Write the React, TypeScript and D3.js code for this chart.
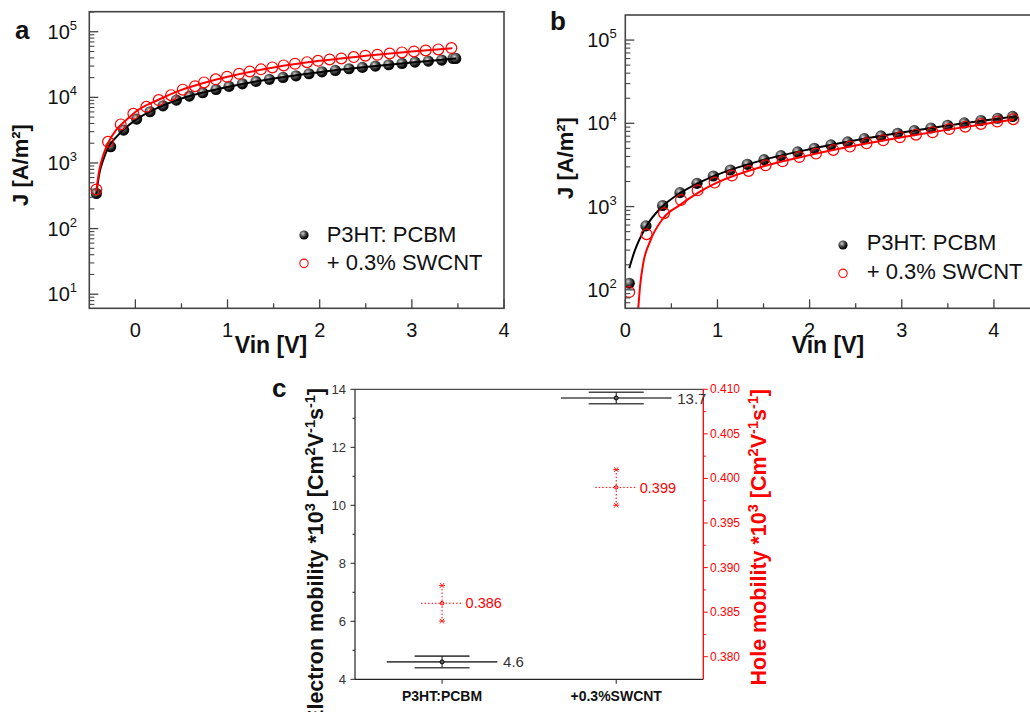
import React from 'react';
import * as d3 from 'd3';

const FONT = "'Liberation Sans', Arial, Helvetica, sans-serif";

// ---------- Panel a data ----------
const aBlackV = [-0.423, -0.268, -0.127, 0.014, 0.159, 0.3, 0.445, 0.586, 0.731, 0.875, 1.016, 1.161, 1.309, 1.454, 1.602, 1.743, 1.884, 2.025, 2.17, 2.318, 2.463, 2.604, 2.749, 2.893, 3.034, 3.179, 3.324, 3.447, 3.476];
const aBlackJ = [343, 1766, 3170, 4660, 6030, 7440, 9080, 10450, 11750, 13200, 14700, 16100, 17500, 18800, 20100, 21300, 22900, 24500, 25700, 27300, 28600, 29900, 31400, 32900, 34400, 35700, 37000, 39200, 39200];
const aRedV = [-0.423, -0.297, -0.159, -0.022, 0.119, 0.253, 0.387, 0.514, 0.647, 0.745, 0.872, 0.995, 1.125, 1.241, 1.363, 1.486, 1.609, 1.732, 1.863, 1.982, 2.108, 2.235, 2.369, 2.495, 2.626, 2.759, 2.893, 3.023, 3.15, 3.287, 3.429];
const aRedJ = [394, 2100, 3870, 5620, 7180, 9080, 10800, 13100, 14800, 16900, 18800, 20600, 22900, 24800, 26700, 28600, 30700, 32500, 34400, 36100, 37800, 39200, 41100, 43100, 44600, 46700, 48400, 50100, 51900, 53800, 56400];
const aBlackFitV = [-0.425, -0.39, -0.35, -0.297, -0.2, -0.1, 0, 0.25, 0.5, 0.75, 1.0, 1.5, 2.0, 2.5, 3.0, 3.48];
const aBlackFitJ = [330, 700, 1100, 1700, 2550, 3500, 4500, 7000, 9600, 12000, 14400, 19400, 24200, 29000, 34000, 39000];
const aRedFitV = [-0.425, -0.39, -0.35, -0.297, -0.2, -0.1, 0, 0.25, 0.5, 0.75, 1.0, 1.5, 2.0, 2.5, 3.0, 3.44];
const aRedFitJ = [370, 800, 1300, 2000, 3300, 4500, 6000, 9200, 13000, 16700, 20600, 28500, 36000, 43000, 50000, 56000];
const aXTicks = [0, 1, 2, 3, 4];
const aYExps = [1, 2, 3, 4, 5];

// ---------- Panel b data ----------
const bBlackV = [0.043, 0.224, 0.405, 0.593, 0.778, 0.955, 1.139, 1.324, 1.505, 1.689, 1.87, 2.051, 2.231, 2.412, 2.593, 2.774, 2.955, 3.136, 3.316, 3.497, 3.678, 3.859, 4.04, 4.203];
const bBlackJ = [120, 586, 1030, 1470, 1900, 2330, 2750, 3220, 3660, 4090, 4530, 5010, 5500, 5970, 6550, 7050, 7590, 8170, 8790, 9460, 10100, 10800, 11500, 12100];
const bRedV = [0.043, 0.231, 0.42, 0.604, 0.785, 0.969, 1.157, 1.338, 1.523, 1.707, 1.888, 2.069, 2.257, 2.438, 2.618, 2.799, 2.98, 3.154, 3.335, 3.515, 3.689, 3.859, 4.036, 4.21];
const bRedJ = [94, 466, 832, 1200, 1570, 1940, 2360, 2680, 3130, 3500, 3940, 4330, 4790, 5250, 5750, 6250, 6790, 7310, 7800, 8550, 9120, 9820, 10500, 11200];
const bBlackFitV = [0.043, 0.1, 0.224, 0.405, 0.593, 0.778, 1.0, 1.5, 2.0, 2.5, 3.0, 3.5, 4.0, 4.25];
const bBlackFitJ = [182, 290, 570, 1010, 1450, 1880, 2420, 3640, 4880, 6250, 7750, 9400, 11200, 12200];
const bRedFitV = [0.13, 0.141, 0.16, 0.195, 0.268, 0.412, 0.594, 0.81, 1.0, 1.5, 2.0, 2.5, 3.0, 3.5, 4.0, 4.22];
const bRedFitJ = [45, 61, 110, 209, 380, 726, 1047, 1514, 1950, 3050, 4150, 5400, 6800, 8400, 10200, 11100];
const bXTicks = [0, 1, 2, 3, 4];
const bYExps = [2, 3, 4, 5];

const legendLabels = ['P3HT: PCBM', '+ 0.3% SWCNT'];

// ---------- Panel c data ----------
const categories = ['P3HT:PCBM', '+0.3%SWCNT'];
const electron = [4.6, 13.7];
const electronErr = [0.2, 0.2];
const electronLabels = ['4.6', '13.7'];
const hole = [0.386, 0.399];
const holeErr = [0.002, 0.002];
const holeLabels = ['0.386', '0.399'];
const leftTicks = [4, 6, 8, 10, 12, 14];
const leftMinor = [5, 7, 9, 11, 13];
const rightTicks = [0.38, 0.385, 0.39, 0.395, 0.4, 0.405, 0.41];
const rightMinor = [0.3825, 0.3875, 0.3925, 0.3975, 0.4025, 0.4075];

type Box = { left: number; top: number; right: number; bottom: number };

function zip(a: number[], b: number[]): [number, number][] {
  return a.map((v, i) => [v, b[i]] as [number, number]);
}

function LogPanel(p: any) {
  const box: Box = p.box;
  const x = d3.scaleLinear().domain(p.xDomain).range([box.left, box.right]);
  const y = d3.scaleLog().domain(p.yDomain).range([box.bottom, box.top]);
  const line = d3
    .line<[number, number]>()
    .x((d) => x(d[0]))
    .y((d) => y(d[1]))
    .curve(d3.curveMonotoneX);
  const axisCol = '#454545';
  const xMinor = d3
    .range(Math.ceil(p.xDomain[0] * 2) / 2, p.xDomain[1] + 1e-9, 0.5)
    .filter((v) => Math.abs(v - Math.round(v)) > 1e-6 && v > p.xDomain[0] + 1e-6 && v < p.xDomain[1] - 1e-6);
  const logMin: number[] = [];
  const lo = Math.floor(Math.log10(p.yDomain[0]));
  const hi = Math.ceil(Math.log10(p.yDomain[1]));
  for (let e = lo; e <= hi; e++) {
    for (let k = 2; k <= 9; k++) {
      const v = k * Math.pow(10, e);
      if (v > p.yDomain[0] && v < p.yDomain[1]) logMin.push(v);
    }
  }
  const clipId = 'clip-' + p.id;
  const black = zip(p.blackV, p.blackJ);
  const red = zip(p.redV, p.redJ);
  return (
    <g>
      <defs>
        <clipPath id={clipId}>
          <rect x={box.left} y={box.top} width={box.right - box.left} height={box.bottom - box.top} />
        </clipPath>
      </defs>
      <g clipPath={`url(#${clipId})`}>
        {black.map((d, i) => (
          <circle key={'b' + i} cx={x(d[0])} cy={y(d[1])} r={5.6} fill="url(#sphere)" />
        ))}
        <path d={line(zip(p.blackFitV, p.blackFitJ)) || ''} fill="none" stroke="#000" strokeWidth={2} />
        {red.map((d, i) => (
          <circle key={'r' + i} cx={x(d[0])} cy={y(d[1])} r={5.4} fill="none" stroke="#ff0000" strokeWidth={1.2} />
        ))}
        <path d={line(zip(p.redFitV, p.redFitJ)) || ''} fill="none" stroke="#ff0000" strokeWidth={2} />
      </g>
      <rect x={box.left} y={box.top} width={box.right - box.left} height={box.bottom - box.top} fill="none" stroke={axisCol} strokeWidth={1.6} />
      {p.xTicks.map((t: number) => (
        <g key={'xt' + t}>
          <line x1={x(t)} x2={x(t)} y1={box.bottom} y2={box.bottom - 9} stroke={axisCol} strokeWidth={1.3} />
          <text x={x(t)} y={337} textAnchor="middle" fontSize={20} fill="#111">
            {t}
          </text>
        </g>
      ))}
      {xMinor.map((t: number) => (
        <line key={'xm' + t} x1={x(t)} x2={x(t)} y1={box.bottom} y2={box.bottom - 5} stroke={axisCol} strokeWidth={1.3} />
      ))}
      {p.yExps.map((e: number) => {
        const v = Math.pow(10, e);
        return (
          <g key={'yt' + e}>
            <line x1={box.left} x2={box.left + 9} y1={y(v)} y2={y(v)} stroke={axisCol} strokeWidth={1.3} />
            <text x={p.yLabelRight} y={y(v) + 7} textAnchor="end" fontSize={20} fill="#111">
              10
              <tspan dy={-9} fontSize={13}>
                {e}
              </tspan>
            </text>
          </g>
        );
      })}
      {logMin.map((v, i) => (
        <line key={'ym' + i} x1={box.left} x2={box.left + 5} y1={y(v)} y2={y(v)} stroke={axisCol} strokeWidth={1.1} />
      ))}
      <circle cx={p.legend.x} cy={p.legend.y1} r={4.6} fill="url(#sphere)" />
      <text x={p.legend.tx} y={p.legend.b1} fontSize={22} fill="#111">
        {legendLabels[0]}
      </text>
      <circle cx={p.legend.x} cy={p.legend.y2} r={4.2} fill="none" stroke="#ff0000" strokeWidth={1.1} />
      <text x={p.legend.tx} y={p.legend.b2} fontSize={22} fill="#111">
        {legendLabels[1]}
      </text>
      <text transform={`translate(${p.jTitle.x},${p.jTitle.y}) rotate(-90)`} textAnchor="middle" fontSize={22} fontWeight="bold" fill="#111">
        J [A/m²]
      </text>
      <text x={p.vin.x} y={p.vin.y} textAnchor="middle" fontSize={23} fontWeight="bold" fill="#111">
        Vin [V]
      </text>
      <text x={p.letter.x} y={p.letter.y} fontSize={26} fontWeight="bold" fill="#111">
        {p.letter.t}
      </text>
    </g>
  );
}

function Star({ cx, cy }: { cx: number; cy: number }) {
  const s = 3;
  return (
    <g stroke="#ff2020" strokeWidth={1}>
      <line x1={cx - s} x2={cx + s} y1={cy} y2={cy} />
      <line x1={cx - s * 0.7} x2={cx + s * 0.7} y1={cy - s * 0.8} y2={cy + s * 0.8} />
      <line x1={cx - s * 0.7} x2={cx + s * 0.7} y1={cy + s * 0.8} y2={cy - s * 0.8} />
    </g>
  );
}

function PanelC() {
  const left = 355,
    right = 703.3,
    top = 389.3,
    bottom = 679.3;
  const x = d3.scalePoint<string>().domain(categories).range([left, right]).padding(0.5);
  const yL = d3.scaleLinear().domain([4, 14]).range([bottom, top]);
  const yR = d3.scaleLinear().domain([0.37747, 0.41]).range([bottom, top]);
  const red = '#ff0000';
  const sup = 14.5;
  return (
    <g>
      <line x1={left} x2={right} y1={top} y2={top} stroke="#222" strokeWidth={1} />
      <line x1={left} x2={right} y1={bottom} y2={bottom} stroke="#222" strokeWidth={1.2} />
      <line x1={left} x2={left} y1={top} y2={bottom} stroke="#222" strokeWidth={1.2} />
      <line x1={right} x2={right} y1={top} y2={bottom} stroke={red} strokeWidth={1.3} />
      {leftTicks.map((t) => (
        <g key={'l' + t}>
          <line x1={left - 4.5} x2={left} y1={yL(t)} y2={yL(t)} stroke="#222" strokeWidth={1} />
          <text x={346} y={yL(t) + 4.5} textAnchor="end" fontSize={13} fill="#333">
            {t}
          </text>
        </g>
      ))}
      {leftMinor.map((t) => (
        <line key={'lm' + t} x1={left - 2.5} x2={left} y1={yL(t)} y2={yL(t)} stroke="#222" strokeWidth={1} />
      ))}
      {rightTicks.map((t) => (
        <g key={'r' + t}>
          <line x1={right} x2={right + 4.5} y1={yR(t)} y2={yR(t)} stroke={red} strokeWidth={1} />
          <text x={710} y={yR(t) + 4} fontSize={12} fill={red}>
            {t.toFixed(3)}
          </text>
        </g>
      ))}
      {rightMinor.map((t) => (
        <line key={'rm' + t} x1={right} x2={right + 2.5} y1={yR(t)} y2={yR(t)} stroke={red} strokeWidth={1} />
      ))}
      {categories.map((c) => (
        <g key={'c' + c}>
          <line x1={x(c)!} x2={x(c)!} y1={bottom} y2={bottom + 4.5} stroke="#222" strokeWidth={1} />
          <text x={x(c)!} y={701} textAnchor="middle" fontSize={14} fontWeight="bold" fill="#111">
            {c}
          </text>
        </g>
      ))}
      {categories.map((c, i) => {
        const cx = x(c)!;
        const yc = yL(electron[i]);
        const yt = yL(electron[i] + electronErr[i]);
        const yb = yL(electron[i] - electronErr[i]);
        return (
          <g key={'e' + c}>
            <line x1={cx - 55.3} x2={cx + 55.3} y1={yc} y2={yc} stroke="#4a4a4a" strokeWidth={1.6} />
            <line x1={cx - 27.5} x2={cx + 27.5} y1={yt} y2={yt} stroke="#4a4a4a" strokeWidth={1.6} />
            <line x1={cx - 27.5} x2={cx + 27.5} y1={yb} y2={yb} stroke="#4a4a4a" strokeWidth={1.6} />
            <line x1={cx} x2={cx} y1={yt} y2={yb} stroke="#111" strokeWidth={1} />
            <circle cx={cx} cy={yc} r={2} fill="#666" stroke="#000" strokeWidth={1} />
            <text x={cx + 61} y={yc + 5.5} fontSize={15} fill="#333">
              {electronLabels[i]}
            </text>
          </g>
        );
      })}
      {categories.map((c, i) => {
        const cx = x(c)!;
        const yc = yR(hole[i]);
        const yt = yR(hole[i] + holeErr[i]);
        const yb = yR(hole[i] - holeErr[i]);
        return (
          <g key={'h' + c}>
            <line x1={cx - 21} x2={cx + 21} y1={yc} y2={yc} stroke={red} strokeWidth={1} strokeDasharray="1.5,2" />
            <line x1={cx} x2={cx} y1={yt} y2={yb} stroke={red} strokeWidth={1} strokeDasharray="1.5,2" />
            <Star cx={cx} cy={yt} />
            <Star cx={cx} cy={yb} />
            <circle cx={cx} cy={yc} r={1.8} fill="#ff9090" stroke={red} strokeWidth={1} />
            <text x={cx + 23.5} y={yc + 5.2} fontSize={14.5} fill={red}>
              {holeLabels[i]}
            </text>
          </g>
        );
      })}
      <text transform={`translate(323,388) rotate(-90)`} textAnchor="end" fontSize={21.5} fontWeight="bold" fill="#111">
        Electron mobility *10
        <tspan dy={-8} fontSize={sup}>3</tspan>
        <tspan dy={8}> [Cm</tspan>
        <tspan dy={-8} fontSize={sup}>2</tspan>
        <tspan dy={8}>V</tspan>
        <tspan dy={-8} fontSize={sup}>-1</tspan>
        <tspan dy={8}>s</tspan>
        <tspan dy={-8} fontSize={sup}>-1</tspan>
        <tspan dy={8}>]</tspan>
      </text>
      <text transform={`translate(766,389) rotate(-90)`} textAnchor="end" fontSize={21.5} fontWeight="bold" fill={red}>
        Hole mobility *10
        <tspan dy={-8} fontSize={sup}>3</tspan>
        <tspan dy={8}> [Cm</tspan>
        <tspan dy={-8} fontSize={sup}>2</tspan>
        <tspan dy={8}>V</tspan>
        <tspan dy={-8} fontSize={sup}>-1</tspan>
        <tspan dy={8}>s</tspan>
        <tspan dy={-8} fontSize={sup}>-1</tspan>
        <tspan dy={8}>]</tspan>
      </text>
      <text x={272} y={397} fontSize={26} fontWeight="bold" fill="#111">
        c
      </text>
    </g>
  );
}

const panelA = {
  id: 'a',
  box: { left: 89.3, top: 11.7, right: 504, bottom: 308.3 },
  xDomain: [-0.5, 4],
  yDomain: [6.1, 2.02e5],
  xTicks: aXTicks,
  yExps: aYExps,
  blackV: aBlackV,
  blackJ: aBlackJ,
  redV: aRedV,
  redJ: aRedJ,
  blackFitV: aBlackFitV,
  blackFitJ: aBlackFitJ,
  redFitV: aRedFitV,
  redFitJ: aRedFitJ,
  yLabelRight: 77,
  legend: { x: 304, y1: 235, y2: 263.3, tx: 326.7, b1: 242, b2: 270 },
  jTitle: { x: 28, y: 165 },
  vin: { x: 271, y: 353 },
  letter: { t: 'a', x: 15, y: 39 },
};

const panelB = {
  id: 'b',
  box: { left: 625.3, top: 15, right: 1040, bottom: 308.3 },
  xDomain: [0, 4.5],
  yDomain: [60, 2.0e5],
  xTicks: bXTicks,
  yExps: bYExps,
  blackV: bBlackV,
  blackJ: bBlackJ,
  redV: bRedV,
  redJ: bRedJ,
  blackFitV: bBlackFitV,
  blackFitJ: bBlackFitJ,
  redFitV: bRedFitV,
  redFitJ: bRedFitJ,
  yLabelRight: 616.7,
  legend: { x: 843, y1: 245, y2: 273.3, tx: 866.7, b1: 250, b2: 279 },
  jTitle: { x: 573, y: 158 },
  vin: { x: 828, y: 353 },
  letter: { t: 'b', x: 550, y: 30 },
};

export default function App() {
  return (
    <svg
      width={1030}
      height={712}
      viewBox="0 0 1030 712"
      style={{ position: 'absolute', left: 0, top: 0, background: '#fff', display: 'block' }}
      fontFamily={FONT}
    >
      <defs>
        <radialGradient id="sphere" cx="0.38" cy="0.35" r="0.65">
          <stop offset="0" stopColor="#d8d8d8" />
          <stop offset="0.35" stopColor="#6a6a6a" />
          <stop offset="0.75" stopColor="#141414" />
          <stop offset="1" stopColor="#000" />
        </radialGradient>
      </defs>
      <rect x={0} y={0} width={1030} height={712} fill="#fff" />
      <LogPanel {...panelA} />
      <LogPanel {...panelB} />
      <PanelC />
    </svg>
  );
}
